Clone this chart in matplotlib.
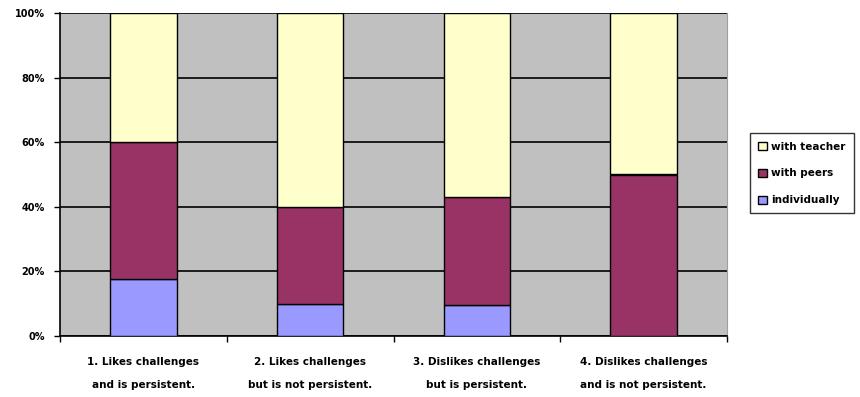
import numpy as np
import matplotlib.pyplot as plt

categories = ["1. Likes challenges\nand is persistent.",
              "2. Likes challenges\nbut is not persistent.",
              "3. Dislikes challenges\nbut is persistent.",
              "4. Dislikes challenges\nand is not persistent."]
individually = [17.6, 10.0, 9.5, 0.0]
with_peers = [42.4, 30.0, 33.4, 50.0]
with_teacher = [40.0, 60.0, 57.1, 50.0]

plt.rcParams['font.family'] = ['DejaVu Sans']

fig = plt.figure(figsize=(8.6, 3.97), dpi=100)
ax = fig.add_axes([60/860, 61/397, 667/860, 323/397])
ax.set_facecolor('#C0C0C0')

x = np.arange(len(categories))
w = 0.4
ind = np.array(individually)
peer = np.array(with_peers)
teach = np.array(with_teacher)

b1 = ax.bar(x, ind, w, color='#9999FF', edgecolor='black', linewidth=1, label='individually', zorder=3)
b2 = ax.bar(x, peer, w, bottom=ind, color='#993366', edgecolor='black', linewidth=1, label='with peers', zorder=3)
b3 = ax.bar(x, teach, w, bottom=ind + peer, color='#FFFFCC', edgecolor='black', linewidth=1, label='with teacher', zorder=3)

ax.set_xlim(-0.5, len(categories) - 0.5)
ax.set_ylim(0, 100)
ax.set_yticks(np.arange(0, 101, 20))
ax.set_yticklabels([f"{v}%" for v in range(0, 101, 20)], fontsize=7, fontweight='bold')
ax.yaxis.grid(True, color='black', linewidth=1.2, zorder=1)
ax.set_axisbelow(True)

# category labels centred under the bars, tick marks on the boundaries
ax.set_xticks(x)
ax.set_xticklabels(categories, fontsize=7.5, fontweight='bold', linespacing=2.6)
ax.tick_params(axis='x', length=0, pad=15)
ax.set_xticks(np.arange(-0.5, len(categories)), minor=True)
ax.tick_params(axis='x', which='minor', length=4, width=1, direction='out')
ax.tick_params(axis='y', length=4, width=1, direction='out', pad=7)

ax.spines['top'].set_visible(False)
ax.spines['right'].set_color('#A0A0A0')
ax.spines['left'].set_linewidth(1.2)
ax.spines['bottom'].set_linewidth(1.2)

handles = [b3, b2, b1]
leg = fig.legend(handles, [h.get_label() for h in handles], loc='center left',
                 bbox_to_anchor=(750/860, 0.563), fontsize=7.5, frameon=True,
                 fancybox=False, edgecolor='black', handlelength=0.8, handleheight=0.8,
                 handletextpad=0.4, labelspacing=1.6, borderpad=0.8, borderaxespad=0)
leg.get_frame().set_linewidth(1)
for t in leg.get_texts():
    t.set_fontweight('bold')

fig.savefig('out.png', dpi=100)
